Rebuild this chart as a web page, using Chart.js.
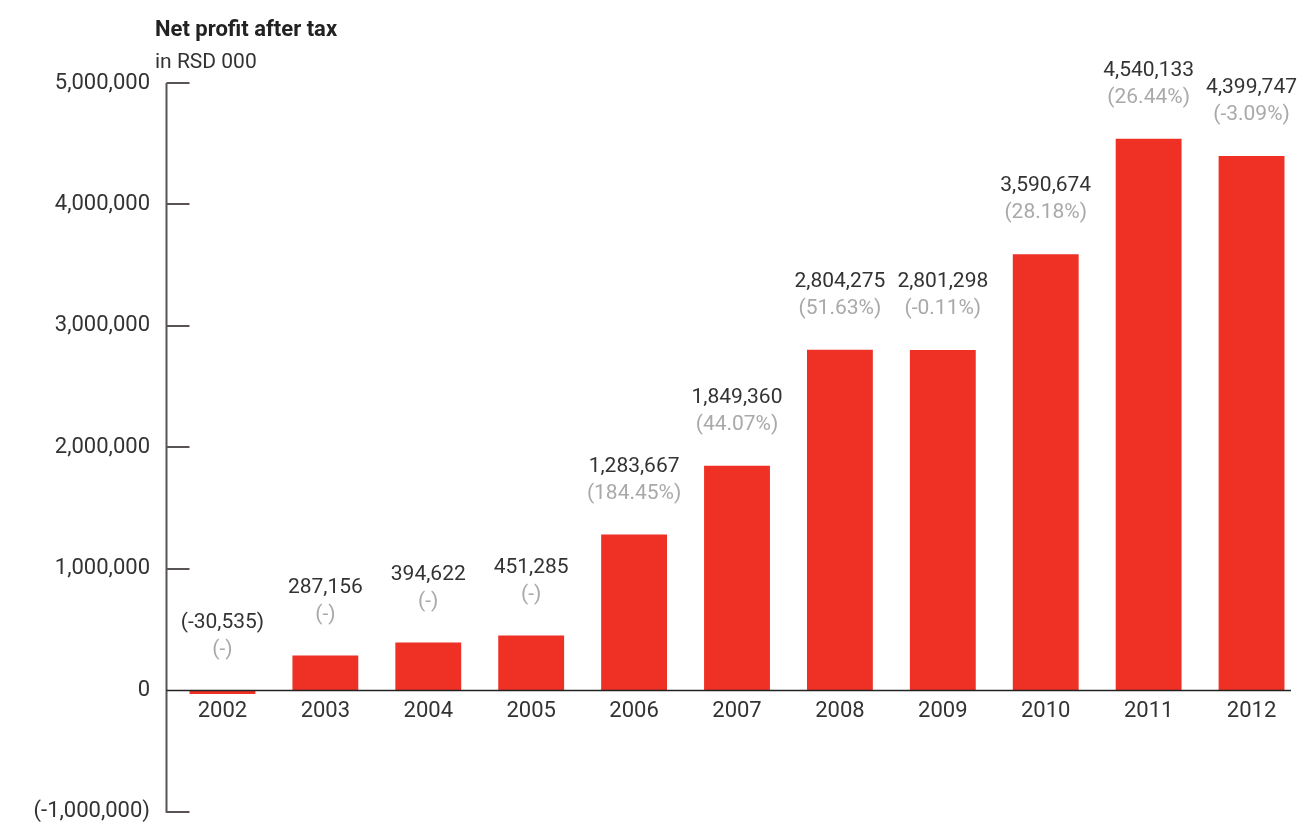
<!DOCTYPE html>
<html lang="en">
<head>
    <meta charset="UTF-8">
    <title>Net profit after tax</title>
    <script src="https://cdn.jsdelivr.net/npm/chart.js"></script>
    <style>
        html, body {
            margin: 0;
            overflow: hidden;
            background: #fff;
            font-family: Roboto, "Liberation Sans", sans-serif;
        }
        .wrap {
            position: relative;
            width: 1309px;
            height: 828px;
            overflow: hidden;
        }
        /* canvas runs a little past the bottom edge: the x axis sits on the zero line
           but still gets space reserved under the plot area */
        .wrap canvas {
            position: absolute;
            left: 0;
            top: 0;
        }
        .chart-title {
            position: absolute;
            left: 155px;
            top: 16px;
            font-size: 22px;
            font-weight: bold;
            color: #222;
        }
        .chart-unit {
            position: absolute;
            left: 155px;
            top: 49px;
            font-size: 21px;
            color: #333;
        }
    </style>
</head>
<body>
<div class="wrap">
    <canvas id="profitChart" width="1309" height="846"></canvas>
    <div class="chart-title">Net profit after tax</div>
    <div class="chart-unit">in RSD 000</div>
</div>

<script>
    const years = ['2002', '2003', '2004', '2005', '2006', '2007', '2008', '2009', '2010', '2011', '2012'];
    const netProfit = [-30535, 287156, 394622, 451285, 1283667, 1849360, 2804275, 2801298, 3590674, 4540133, 4399747];
    const growth = ['(-)', '(-)', '(-)', '(-)', '(184.45%)', '(44.07%)', '(51.63%)', '(-0.11%)', '(28.18%)', '(26.44%)', '(-3.09%)'];
    const yTicks = [-1000000, 0, 1000000, 2000000, 3000000, 4000000, 5000000];

    const FONT = 'Roboto, "Liberation Sans", sans-serif';

    function fmt(v) {
        const s = v.toLocaleString('en-US');
        return v < 0 ? '(' + s + ')' : s;
    }

    // axis line with inward ticks, plus the zero baseline
    const axisLines = {
        id: 'axisLines',
        afterDatasetsDraw(chart) {
            const {ctx, scales: {y}, chartArea} = chart;
            const ax = chartArea.left - 4.5;
            ctx.save();
            ctx.strokeStyle = '#5a5353';
            ctx.lineWidth = 2;
            ctx.beginPath();
            ctx.moveTo(ax, y.getPixelForValue(5000000));
            ctx.lineTo(ax, y.getPixelForValue(-1000000) + 1);
            yTicks.forEach(t => {
                if (t === 0) return;
                const py = Math.round(y.getPixelForValue(t));
                ctx.moveTo(ax, py);
                ctx.lineTo(ax + 23, py);
            });
            ctx.stroke();

            const zy = Math.round(y.getPixelForValue(0)) + 0.5;
            ctx.strokeStyle = '#222';
            ctx.lineWidth = 1.6;
            ctx.beginPath();
            ctx.moveTo(ax, zy);
            ctx.lineTo(chartArea.right - 12, zy);
            ctx.stroke();
            ctx.restore();
        }
    };

    // value and growth labels above each bar
    const barLabels = {
        id: 'barLabels',
        afterDatasetsDraw(chart) {
            const {ctx, scales: {x, y}} = chart;
            ctx.save();
            ctx.textAlign = 'center';
            ctx.textBaseline = 'middle';
            ctx.font = '21px ' + FONT;
            netProfit.forEach((v, i) => {
                const px = x.getPixelForValue(i);
                const top = y.getPixelForValue(Math.max(v, 0));
                ctx.fillStyle = '#333';
                ctx.fillText(fmt(v), px, top - 68);
                ctx.fillStyle = '#a9a9a9';
                ctx.fillText(growth[i], px, top - 41);
            });
            ctx.restore();
        }
    };

    const ctx = document.getElementById('profitChart').getContext('2d');
    const profitChart = new Chart(ctx, {
        type: 'bar',
        data: {
            labels: years,
            datasets: [{
                data: netProfit,
                backgroundColor: '#ee3124',
                barPercentage: 0.64,
                categoryPercentage: 1.0
            }]
        },
        options: {
            responsive: false,
            animation: false,
            layout: {
                padding: {top: 83, right: 6, bottom: 0, left: 0}
            },
            plugins: {
                legend: {display: false},
                tooltip: {enabled: false}
            },
            scales: {
                x: {
                    position: {y: 0},
                    grid: {display: false, drawTicks: false},
                    border: {display: false},
                    ticks: {
                        color: '#333',
                        padding: 8,
                        font: {family: FONT, size: 22}
                    }
                },
                y: {
                    min: -1000000,
                    max: 5000000,
                    afterFit(scale) { scale.width = 171; },
                    afterBuildTicks(scale) { scale.ticks = yTicks.map(v => ({value: v})); },
                    grid: {display: false, drawTicks: false},
                    border: {display: false},
                    ticks: {
                        color: '#333',
                        padding: 21,
                        font: {family: FONT, size: 22},
                        callback: v => fmt(v)
                    }
                }
            }
        },
        plugins: [axisLines, barLabels]
    });
</script>
</body>
</html>
